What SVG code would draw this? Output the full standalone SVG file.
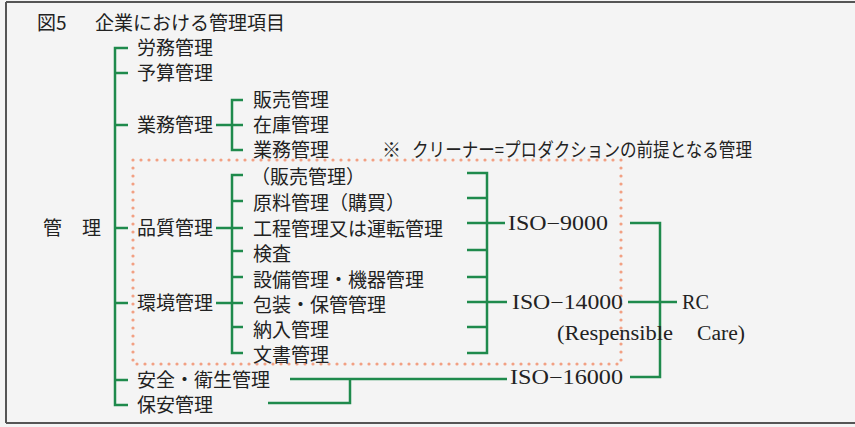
<svg xmlns="http://www.w3.org/2000/svg" width="855" height="427" viewBox="0 0 855 427">
<style>
.j{font-family:"Noto Sans CJK JP","Noto Sans",sans-serif;font-size:19px;fill:#222}
.s{font-family:"Liberation Serif","DejaVu Serif",serif;font-size:20px;fill:#222}
.g{fill:none;stroke:#1f8a4c;stroke-width:2.5}
</style>
<rect x="0" y="0" width="855" height="427" fill="#f4f4f4"/>
<g id="frame" fill="none" stroke="#555" stroke-width="2">
<line x1="6" y1="2" x2="855" y2="2"/>
<line x1="6" y1="2" x2="6" y2="423"/>
<line x1="6" y1="423" x2="855" y2="423"/>
</g>
<g id="title"><text class="j" x="37" y="30" font-size="18.5">図5</text><text class="j" x="95" y="30" font-size="18.5" textLength="190" lengthAdjust="spacingAndGlyphs">企業における管理項目</text></g>
<rect id="cleaner-area" x="133" y="160" width="488" height="204" fill="none" stroke="#f2a083" stroke-width="3.2" stroke-dasharray="0 8" stroke-linecap="round"/>
<g id="connectors" class="g">
<path d="M128 48H115V405H128M115 73H128M115 125H128M115 228H128M115 303H128M115 380H128"/>
<path d="M216 125H232M243 100H232V150H243M232 125H243"/>
<path d="M216 228H243M216 303H243"/>
<path d="M243 175H232V353H243M232 201H243M232 251H243M232 277H243M232 327H243"/>
<path d="M467 173H487V353H467M467 198H487M467 223H505M467 250H487M467 277H487M467 302H507M467 327H487"/>
<path d="M630 223H660V377H630M628 302H677"/>
<path d="M290 379H507M268 403H350V379"/>
</g>
<g id="root"><text class="j" x="43" y="235">管</text><text class="j" x="82" y="235">理</text></g>
<g id="n-roumu"><text class="j" x="137" y="55">労務管理</text></g>
<g id="n-yosan"><text class="j" x="137" y="80">予算管理</text></g>
<g id="n-gyomu"><text class="j" x="137" y="132">業務管理</text></g>
<g id="n-hinshitsu"><text class="j" x="137" y="235">品質管理</text></g>
<g id="n-kankyo"><text class="j" x="137" y="310">環境管理</text></g>
<g id="n-anzen"><text class="j" x="137" y="387">安全・衛生管理</text></g>
<g id="n-hoan"><text class="j" x="137" y="412">保安管理</text></g>
<g id="n-hanbai"><text class="j" x="253" y="107">販売管理</text></g>
<g id="n-zaiko"><text class="j" x="253" y="132">在庫管理</text></g>
<g id="n-gyomu2"><text class="j" x="253" y="157">業務管理</text></g>
<g id="note"><text class="j" x="382" y="157" font-size="17">※</text><text class="j" x="412" y="157" font-size="17" textLength="340" lengthAdjust="spacingAndGlyphs">クリーナー=プロダクションの前提となる管理</text></g>
<g id="n-hanbai2"><text class="j" x="251" y="184">（販売管理）</text></g>
<g id="n-genryo"><text class="j" x="253" y="210">原料管理（購買）</text></g>
<g id="n-kotei"><text class="j" x="253" y="236">工程管理又は運転管理</text></g>
<g id="n-kensa"><text class="j" x="253" y="261">検査</text></g>
<g id="n-setsubi"><text class="j" x="253" y="287">設備管理・機器管理</text></g>
<g id="n-hoso"><text class="j" x="253" y="312">包装・保管管理</text></g>
<g id="n-nonyu"><text class="j" x="253" y="337">納入管理</text></g>
<g id="n-bunsho"><text class="j" x="253" y="362">文書管理</text></g>
<g id="n-iso9000"><text class="s" x="508" y="230" textLength="100" lengthAdjust="spacingAndGlyphs">ISO−9000</text></g>
<g id="n-iso14000"><text class="s" x="512" y="309" textLength="111" lengthAdjust="spacingAndGlyphs">ISO−14000</text></g>
<g id="n-iso16000"><text class="s" x="510" y="384" textLength="113" lengthAdjust="spacingAndGlyphs">ISO−16000</text></g>
<g id="n-rc"><text class="s" x="682" y="309" textLength="27" lengthAdjust="spacingAndGlyphs">RC</text><text class="s" x="557" y="340" textLength="116" lengthAdjust="spacingAndGlyphs">(Respensible</text><text class="s" x="697" y="340" textLength="48" lengthAdjust="spacingAndGlyphs">Care)</text></g>
</svg>
